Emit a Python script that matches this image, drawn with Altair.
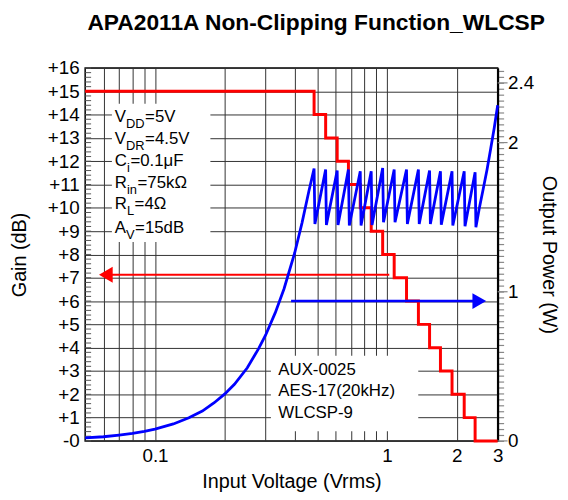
import altair as alt
import pandas as pd

TITLE = "APA2011A Non-Clipping Function_WLCSP"
FONT = "Liberation Sans"

# ---- Gain (dB) step curve: input voltage (Vrms) where each gain level starts
gain_v = [0.05, 0.485, 0.544, 0.610, 0.682, 0.767, 0.855, 0.958, 1.074,
          1.214, 1.366, 1.526, 1.700, 1.907, 2.152, 2.398, 3.0]
gain_db = [15, 14, 13, 12, 11, 10, 9, 8, 7, 6, 5, 4, 3, 2, 1, 0, 0]

# ---- Output power (W): rising part
rise_v = [0.05, 0.06, 0.07, 0.08, 0.09, 0.1, 0.12, 0.14, 0.16, 0.18, 0.2,
          0.22, 0.25, 0.28, 0.3, 0.33, 0.36, 0.4, 0.43, 0.46]
rise_p = [0.02, 0.028, 0.039, 0.05, 0.064, 0.079, 0.114, 0.155, 0.2, 0.256,
          0.315, 0.38, 0.49, 0.62, 0.71, 0.86, 1.02, 1.26, 1.46, 1.67]
# sawtooth peaks and troughs
peak_v = [0.485, 0.544, 0.610, 0.682, 0.767, 0.855, 0.958, 1.074, 1.214,
          1.366, 1.526, 1.700, 1.907, 2.152, 2.398]
peak_p = [1.826, 1.819, 1.813, 1.819, 1.808, 1.808, 1.830, 1.819, 1.819,
          1.819, 1.813, 1.808, 1.808, 1.808, 1.801]
trough_v = [0.489, 0.548, 0.615, 0.688, 0.773, 0.862, 0.966, 1.083, 1.224,
            1.377, 1.538, 1.714, 1.922, 2.169, 2.417]
trough_p = [1.455, 1.448, 1.448, 1.444, 1.444, 1.448, 1.466, 1.466, 1.455,
            1.455, 1.455, 1.450, 1.444, 1.439, 1.432]
# final rise at 0 dB gain
tail_v = [2.5, 2.6, 2.7, 2.8, 2.9, 3.0]
tail_p = [1.56, 1.69, 1.82, 1.96, 2.10, 2.25]

# ---- axes
x_grid = [0.06, 0.07, 0.08, 0.09, 0.1, 0.2, 0.3, 0.4, 0.5, 0.6, 0.7, 0.8,
          0.9, 1, 2, 3]
x_labels = [0.1, 1, 2, 3]
left_ticks = list(range(17))
left_minor = [round(i * 0.2, 1) for i in range(81)]
right_ticks = [round(i * 0.04, 2) for i in range(63)]
right_labels = [0, 1, 2, 2.4]

# ---- arrows
red_arrow_v = [0.0614, 1.023]
red_arrow_db = 7.13
blue_arrow_v = [0.386, 2.5]
blue_arrow_db = 6

# ---- annotation boxes (Vrms / dB corners)
box_v0 = [0.0652, 0.316]
box_v1 = [0.1733, 1.364]
box_g0 = [8.53, 0.42]
box_g1 = [14.47, 3.65]

param_main = ["V", "V", "C", "R", "R", "A"]
param_sub = ["DD", "DR", "i", "in", "L", "V"]
param_rest = ["=5V", "=4.5V", "=0.1\u03bcF", "=75k\u03a9", "=4\u03a9", "=15dB"]
param_db = [13.9, 12.95, 12.0, 11.05, 10.15, 9.15]
param_v = 0.0671
# style: x offsets (px) of subscript and remainder for each line
param_dx_sub = [11.3, 11.3, 12.3, 12.3, 12.3, 11.3]
param_dx_rest = [30.6, 30.6, 15.8, 23.0, 20.0, 20.5]

note_lines = ["AUX-0025", "AES-17(20kHz)", "WLCSP-9"]
note_db = [3.03, 2.12, 1.19]
note_v = 0.340

# ---------------------------------------------------------------
RED = "#ff0000"
BLUE = "#0000ff"

xscale = alt.Scale(type="log", domain=[0.05, 3], nice=False)
x_axis = alt.Axis(values=x_grid,
                  labelExpr="(datum.value == 0.1 || datum.value == 1 || datum.value == 2 || datum.value == 3) ? format(datum.value, '~g') : ''",
                  grid=True, gridColor="#333333", gridWidth=1, ticks=False,
                  domain=False, labelFontSize=19, labelPadding=6,
                  labelOverlap=False, labelFlush=False, labelBound=False,
                  titleFontSize=20, titlePadding=6)
yscale_l = alt.Scale(domain=[0, 16], nice=False, zero=False)
left_axis = alt.Axis(values=left_ticks,
                     labelExpr="datum.value == 0 ? '-0' : '+' + datum.value",
                     grid=True, gridColor="#333333", gridWidth=1, ticks=False,
                     domain=False, labelFontSize=19, labelPadding=6,
                     labelOverlap=False, labelFlush=False,
                     titleFontSize=20, titlePadding=18)
yscale_r = alt.Scale(domain=[0, 2.5], nice=False, zero=False)
right_axis = alt.Axis(orient="right", values=right_ticks,
                      labelExpr="(datum.value == 0 || datum.value == 1 || datum.value == 2 || datum.value == 2.4) ? format(datum.value, '~g') : ''",
                      grid=False, ticks=True, tickSize=6, tickColor="#888888",
                      tickWidth=1.2, domain=True, domainColor="black",
                      domainWidth=2, labelFontSize=19, labelPadding=4,
                      labelOverlap=False, labelFlush=False, labelBound=False,
                      titleFontSize=20, titlePadding=5)

X = alt.X("v:Q", scale=xscale, axis=x_axis, title="Input Voltage (Vrms)")
YL = alt.Y("g:Q", scale=yscale_l, axis=left_axis, title="Gain (dB)")
YR = alt.Y("p:Q", scale=yscale_r, axis=right_axis, title="Output Power (W)")

# white boxes
boxes = alt.Chart(pd.DataFrame({"v": box_v0, "v2": box_v1, "g": box_g0, "g2": box_g1})).mark_rect(
    fill="white", stroke=None).encode(x=X, x2="v2:Q", y=YL, y2="g2:Q")

# inner minor ticks on the left axis
minor = alt.Chart(pd.DataFrame({"g": left_minor})).mark_rule(
    color="#555555", strokeWidth=1).encode(x=alt.value(0), x2=alt.value(6), y=YL)

gain_line = alt.Chart(pd.DataFrame({"v": gain_v, "g": gain_db})).mark_line(
    color=RED, strokeWidth=3, interpolate="step-after").encode(x=X, y=YL)

red_arrow = alt.Chart(pd.DataFrame({"v": [red_arrow_v[0]], "v2": [red_arrow_v[1]], "g": [red_arrow_db]})).mark_rule(
    color=RED, strokeWidth=2).encode(x=X, x2="v2:Q", y=YL)
red_head = alt.Chart(pd.DataFrame({"v": [red_arrow_v[0]], "g": [red_arrow_db]})).mark_point(
    shape="triangle-left", filled=True, size=256, color=RED, opacity=1).encode(x=X, y=YL)

blue_arrow = alt.Chart(pd.DataFrame({"v": [blue_arrow_v[0]], "v2": [blue_arrow_v[1]], "g": [blue_arrow_db]})).mark_rule(
    color=BLUE, strokeWidth=2.5).encode(x=X, x2="v2:Q", y=YL)
blue_head = alt.Chart(pd.DataFrame({"v": [blue_arrow_v[1]], "g": [blue_arrow_db]})).mark_point(
    shape="triangle-right", filled=True, size=256, color=BLUE, opacity=1).encode(x=X, y=YL)

text_layers = []
for i in range(len(param_main)):
    d = pd.DataFrame({"v": [param_v], "g": [param_db[i]], "m": [param_main[i]],
                      "s": [param_sub[i]], "r": [param_rest[i]]})
    base = alt.Chart(d)
    text_layers.append(base.mark_text(align="left", baseline="middle", font=FONT,
                                      fontSize=17, color="black").encode(x=X, y=YL, text="m:N"))
    text_layers.append(base.mark_text(align="left", baseline="middle", font=FONT,
                                      fontSize=13, color="black", dx=param_dx_sub[i], dy=7).encode(x=X, y=YL, text="s:N"))
    text_layers.append(base.mark_text(align="left", baseline="middle", font=FONT,
                                      fontSize=17, color="black", dx=param_dx_rest[i]).encode(x=X, y=YL, text="r:N"))

notes = alt.Chart(pd.DataFrame({"v": [note_v] * 3, "g": note_db, "t": note_lines})).mark_text(
    align="left", baseline="middle", font=FONT, fontSize=17, color="black").encode(x=X, y=YL, text="t:N")

left_group = alt.layer(boxes, minor, gain_line, red_arrow, red_head, blue_arrow, blue_head,
                       *text_layers, notes)

# blue output power curve
bv, bp = list(rise_v), list(rise_p)
for i in range(len(peak_v)):
    bv += [peak_v[i], trough_v[i]]
    bp += [peak_p[i], trough_p[i]]
bv += tail_v
bp += tail_p
blue_df = pd.DataFrame({"v": bv, "p": bp, "o": list(range(len(bv)))})
power_line = alt.Chart(blue_df).mark_line(color=BLUE, strokeWidth=2.8).encode(
    x=X, y=YR, order="o:Q")
major_r = alt.Chart(pd.DataFrame({"p": right_labels})).mark_rule(
    color="#888888", strokeWidth=1.2).encode(x=alt.value(417), x2=alt.value(427), y=YR)

right_group = alt.layer(major_r, power_line)

chart = alt.layer(left_group, right_group).resolve_scale(y="independent").properties(
    width=417, height=377,
    autosize=alt.AutoSizeParams(type="none"),
    padding={"left": 78, "top": 58, "right": 63, "bottom": 49},
    title=alt.TitleParams(text=TITLE, fontSize=23, font=FONT, fontWeight="bold",
                          anchor="middle", dx=25, offset=24, color="black"),
).configure_view(stroke="black", strokeWidth=1.5).configure_axis(
    labelFont=FONT, titleFont=FONT, labelColor="black", titleColor="black",
    titleFontWeight="normal")

chart.save("out.html", embed_options={"renderer": "svg", "actions": False})
